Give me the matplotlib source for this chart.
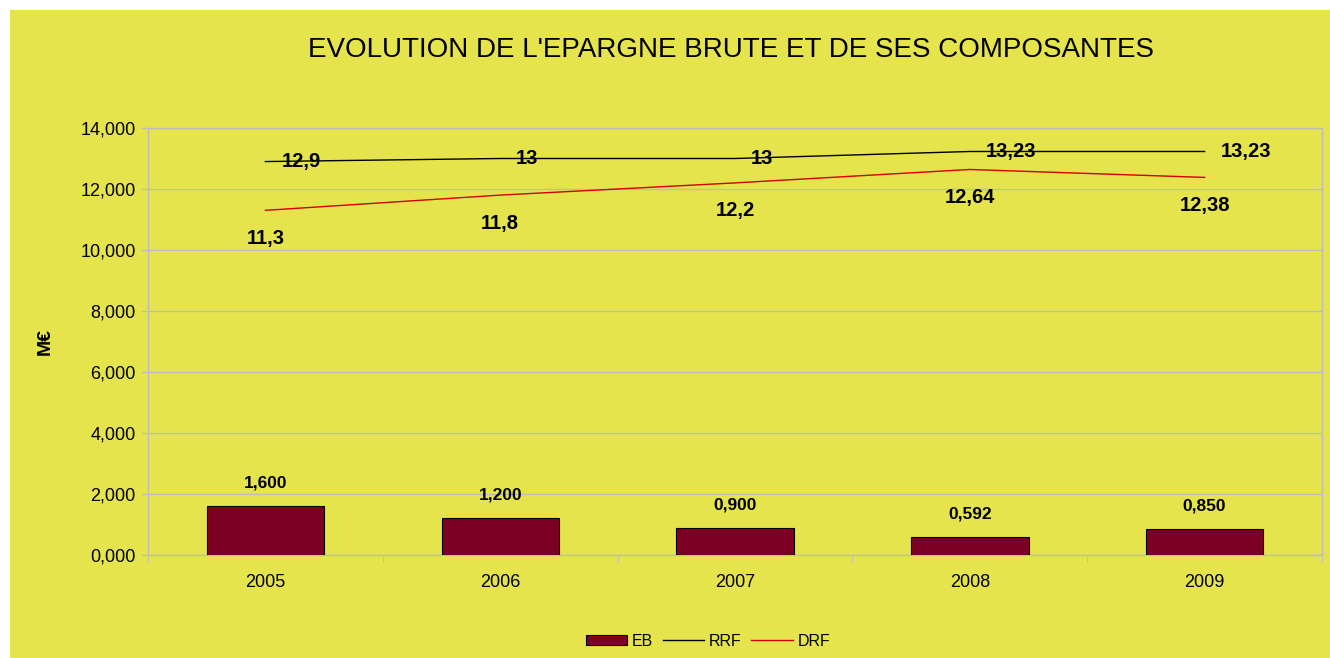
import matplotlib.pyplot as plt
import numpy as np
from matplotlib.patches import Rectangle
from matplotlib.ticker import FuncFormatter

plt.rcParams["font.family"] = ["Liberation Sans", "DejaVu Sans"]

years = ["2005", "2006", "2007", "2008", "2009"]
eb = [1.600, 1.200, 0.900, 0.592, 0.850]
rrf = [12.9, 13.0, 13.0, 13.23, 13.23]
drf = [11.3, 11.8, 12.2, 12.64, 12.38]
rrf_labels = ["12,9", "13", "13", "13,23", "13,23"]
drf_labels = ["11,3", "11,8", "12,2", "12,64", "12,38"]

yellow = "#E6E44C"
grid_grey = "#BDBDBD"

fig = plt.figure(figsize=(13.3, 6.58), dpi=100, facecolor="white")
# fond jaune du graphique
fig.patches.append(Rectangle((10 / 1330, 0), 1, 1 - 10 / 658, transform=fig.transFigure,
                             facecolor=yellow, edgecolor="none", zorder=-10))

ax = fig.add_axes([148 / 1330, 1 - 555 / 658, 1174 / 1330, 427 / 658])
ax.set_facecolor(yellow)

x = np.arange(len(years))
h_eb = ax.bar(x, eb, width=0.5, color="#7B0024", edgecolor="black", linewidth=0.8, zorder=3, label="EB")
h_rrf, = ax.plot(x, rrf, color="black", linewidth=1, zorder=4, label="RRF")
h_drf, = ax.plot(x, drf, color="#D40000", linewidth=1, zorder=4, label="DRF")

for i, v in enumerate(eb):
    ax.annotate(f"{v:.3f}".replace(".", ","), (x[i], v), xytext=(0, 23), textcoords="offset pixels",
                ha="center", va="center", fontsize=12.5, fontweight="bold", zorder=5)
for i, v in enumerate(rrf):
    ax.annotate(rrf_labels[i], (x[i], v), xytext=(16, 0), textcoords="offset pixels",
                ha="left", va="center", fontsize=14.5, fontweight="bold", zorder=5)
for i, v in enumerate(drf):
    ax.annotate(drf_labels[i], (x[i], v), xytext=(0, -28), textcoords="offset pixels",
                ha="center", va="center", fontsize=14.5, fontweight="bold", zorder=5)

ax.set_xlim(-0.5, 4.5)
ax.set_ylim(0, 14)
ax.set_yticks(np.arange(0, 15, 2))
ax.yaxis.set_major_formatter(FuncFormatter(lambda v, p: f"{v:.3f}".replace(".", ",")))
ax.set_xticks(x)
ax.set_xticklabels(years)
ax.set_xticks(np.arange(-0.5, 5, 1), minor=True)
ax.tick_params(axis="x", which="major", length=0, pad=14, labelsize=13)
ax.tick_params(axis="x", which="minor", length=5, color=grid_grey)
ax.tick_params(axis="y", length=5, color=grid_grey, labelsize=13, pad=4)
ax.grid(axis="y", color=grid_grey, linewidth=1, zorder=0)
for s in ax.spines.values():
    s.set_color(grid_grey)
    s.set_linewidth(1)

ax.set_ylabel("M€", fontsize=14, fontweight="bold", labelpad=19)

fig.text(731 / 1330, 1 - 50 / 658, "EVOLUTION DE L'EPARGNE BRUTE ET DE SES COMPOSANTES",
         ha="center", va="center", fontsize=20)

fig.legend([h_eb, h_rrf, h_drf], ["EB", "RRF", "DRF"], loc="center",
           bbox_to_anchor=(708 / 1330, 1 - 641 / 658), ncol=3, frameon=False,
           fontsize=11.5, handlelength=2.6, handleheight=0.6, columnspacing=0.6, handletextpad=0.3)

plt.savefig("out.png", dpi=100, facecolor="white")
